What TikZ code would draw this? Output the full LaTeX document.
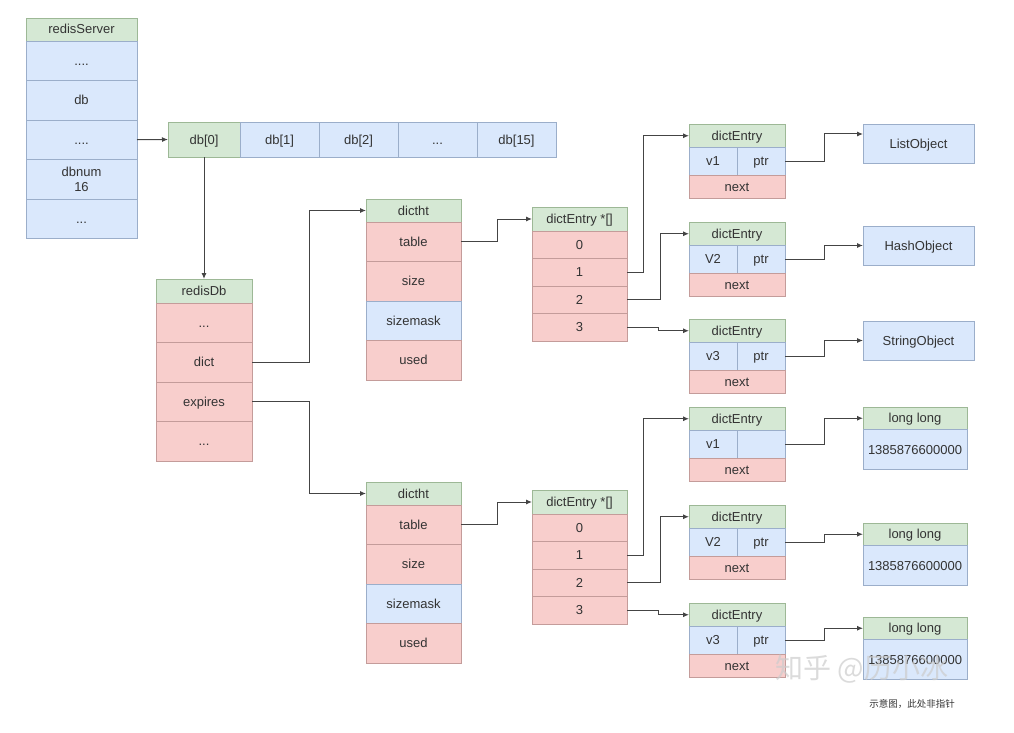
\documentclass[tikz,border=0pt]{standalone}
\usepackage{fontspec}
\setmainfont{Liberation Sans}
\newfontfamily\cjk{Noto Sans CJK SC}
\usetikzlibrary{arrows.meta,positioning,calc}
\definecolor{ink}{HTML}{333333}
\definecolor{wire}{HTML}{444444}
\definecolor{grnfill}{HTML}{D5E8D4}
\definecolor{grnline}{HTML}{9DB896}
\definecolor{bluefill}{HTML}{DAE8FC}
\definecolor{blueline}{HTML}{9BAECA}
\definecolor{redfill}{HTML}{F8CECC}
\definecolor{redline}{HTML}{C49C9A}
\newcommand{\threedots}{...}
\newcommand{\fourdots}{....}
\tikzset{
  cell/.style={draw, anchor=north west, inner sep=0pt, outer sep=0pt,
               line width=0.8pt, text=ink, text height=10.5pt, text depth=1.5pt,
               font=\fontsize{13}{16}\selectfont},
  ghead/.style={cell, fill=grnfill, draw=grnline},
  bcell/.style={cell, fill=bluefill, draw=blueline},
  rcell/.style={cell, fill=redfill, draw=redline},
  ar/.style={-{Latex[length=6pt,width=5pt]}, line width=1pt, draw=wire}
}
% dictht block: name, top y
\newcommand{\dicttable}[2]{%
  \node[ghead, minimum width=95pt, minimum height=23pt] (#1) at (366,#2) {dictht};
  \node[rcell, minimum width=95pt, minimum height=39.5pt] (#1r0) at (366,#2+23) {table};
  \node[rcell, minimum width=95pt, minimum height=39.5pt] (#1r1) at (366,#2+62.5) {size};
  \node[bcell, minimum width=95pt, minimum height=39.5pt] (#1r2) at (366,#2+102) {sizemask};
  \node[rcell, minimum width=95pt, minimum height=39.5pt] (#1r3) at (366,#2+141.5) {used};
}
% dictEntry *[] block: name, top y
\newcommand{\slots}[2]{%
  \node[ghead, minimum width=95pt, minimum height=24pt] (#1) at (532,#2) {dictEntry *[]};
  \foreach \i in {0,1,2,3}
    \node[rcell, minimum width=95pt, minimum height=27.5pt] (#1\i) at (532,#2+24+\i*27.5) {\i};
}
% dictEntry: name, top y, key, ptr
\newcommand{\dictentry}[4]{%
  \node[ghead, minimum width=96pt, minimum height=23.5pt] (#1) at (689,#2) {dictEntry};
  \node[bcell, minimum width=48pt, minimum height=27.5pt] (#1k) at (689,#2+23.5) {#3};
  \node[bcell, minimum width=48pt, minimum height=27.5pt] (#1p) at (737,#2+23.5) {#4};
  \node[rcell, minimum width=96pt, minimum height=23pt] (#1n) at (689,#2+51) {next};
}
% long long box: name, top y
\newcommand{\longbox}[2]{%
  \node[ghead, minimum width=104pt, minimum height=22.5pt] (#1) at (863,#2) {long long};
  \node[bcell, minimum width=104pt, minimum height=40pt] (#1v) at (863,#2+22.5) {1385876600000};
}

\begin{document}
\begin{tikzpicture}[x=1pt,y=-1pt]
  \useasboundingbox (0,0) rectangle (1014,733);

  % redisServer
  \node[ghead, minimum width=111pt, minimum height=23pt] (srv) at (26,18) {redisServer};
  \foreach \t [count=\i from 0] in {\fourdots,db,\fourdots}
    \node[bcell, minimum width=111pt, minimum height=39.5pt] (srv\i) at (26,41+\i*39.5) {\t};
  \node[bcell, minimum width=111pt, minimum height=39.5pt, text height=, text depth=,
        align=center] (srv3) at (26,159.5) {dbnum\\[-1pt]16};
  \node[bcell, minimum width=111pt, minimum height=39.5pt] (srv4) at (26,199) {\threedots};

  % db array
  \node[ghead, minimum width=72pt, minimum height=35pt] (db0) at (168,122) {db[0]};
  \foreach \x/\t [count=\i] in {240/db[1],319/db[2],398/\threedots,477/db[15]}
    \node[bcell, minimum width=79pt, minimum height=35pt] (db\i) at (\x,122) {\t};

  % redisDb
  \node[ghead, minimum width=96pt, minimum height=24pt] (rdb) at (156,279) {redisDb};
  \foreach \t [count=\i from 0] in {\threedots,dict,expires,\threedots}
    \node[rcell, minimum width=96pt, minimum height=39.5pt] (rdb\i) at (156,303+\i*39.5) {\t};

  % hash tables
  \dicttable{htA}{199}
  \dicttable{htB}{482}
  \slots{arrA}{207}
  \slots{arrB}{490}

  % entries
  \dictentry{entA1}{124}{v1}{ptr}
  \dictentry{entA2}{222}{V2}{ptr}
  \dictentry{entA3}{319}{v3}{ptr}
  \dictentry{entB1}{407}{v1}{}
  \dictentry{entB2}{505}{V2}{ptr}
  \dictentry{entB3}{603}{v3}{ptr}

  % values
  \node[bcell, minimum width=111pt, minimum height=39pt] (objL) at (863,124) {ListObject};
  \node[bcell, minimum width=111pt, minimum height=39pt] (objH) at (863,226) {HashObject};
  \node[bcell, minimum width=111pt, minimum height=39pt] (objS) at (863,321) {StringObject};
  \longbox{llA}{407}
  \longbox{llB}{523}
  \longbox{llC}{617}

  % connectors
  \draw[ar] (srv2.east) -- (db0.west);
  \draw[ar] (db0.south) -- (rdb.north);
  \draw[ar] (rdb1.east) -- ++(57,0) |- (htA.west);
  \draw[ar] (rdb2.east) -- ++(57,0) |- (htB.west);
  \draw[ar] (htAr0.east) -- ++(36,0) |- (arrA.west);
  \draw[ar] (htBr0.east) -- ++(36,0) |- (arrB.west);
  \draw[ar] (arrA1.east) -- ++(16,0) |- (entA1.west);
  \draw[ar] (arrA2.east) -- ++(33,0) |- (entA2.west);
  \draw[ar] (arrA3.east) -- ++(31,0) |- (entA3.west);
  \draw[ar] (arrB1.east) -- ++(16,0) |- (entB1.west);
  \draw[ar] (arrB2.east) -- ++(33,0) |- (entB2.west);
  \draw[ar] (arrB3.east) -- ++(31,0) |- (entB3.west);
  \draw[ar] (entA1p.east) -- ++(39,0) |- ([yshift=9.5pt]objL.west);
  \draw[ar] (entA2p.east) -- ++(39,0) |- (objH.west);
  \draw[ar] (entA3p.east) -- ++(39,0) |- (objS.west);
  \draw[ar] (entB1p.east) -- ++(39,0) |- (llA.west);
  \draw[ar] (entB2p.east) -- ++(39,0) |- (llB.west);
  \draw[ar] (entB3p.east) -- ++(39,0) |- (llC.west);

  % caption and watermark
  \node[font=\cjk\fontsize{9.5}{11}\selectfont, text=ink] (note) at (912,704) {示意图，此处非指针};
  \node[font=\cjk\fontsize{28}{30}\selectfont, text=gray!40, opacity=0.7] (mark) at (862,669) {知乎 @历小冰};
\end{tikzpicture}
\end{document}
